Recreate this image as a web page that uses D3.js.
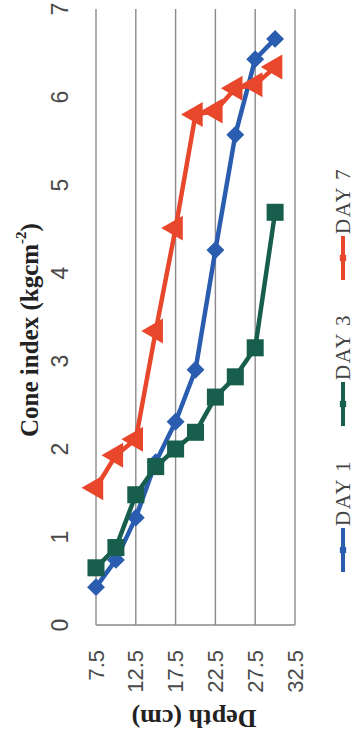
<!DOCTYPE html>
<html><head><meta charset="utf-8">
<script src="https://cdn.jsdelivr.net/npm/d3@7"></script>
<style>html,body{margin:0;padding:0;background:#fff;}svg{display:block;}</style>
</head><body>
<svg id="c" width="361" height="736"></svg>
<script>
const depth = [7.5, 10, 12.5, 15, 17.5, 20, 22.5, 25, 27.5, 30];
const day1 = [0.43, 0.74, 1.22, 1.85, 2.31, 2.9, 4.26, 5.57, 6.43, 6.66];
const day3 = [0.65, 0.88, 1.48, 1.8, 2.0, 2.19, 2.59, 2.82, 3.15, 4.69];
const day7 = [1.56, 1.93, 2.11, 3.34, 4.51, 5.8, 5.84, 6.1, 6.14, 6.34];
const depthTicks = [7.5, 12.5, 17.5, 22.5, 27.5, 32.5];
const coneTicks = [0, 1, 2, 3, 4, 5, 6, 7];
const seriesNames = ["DAY 1", "DAY 3", "DAY 7"];
const colors = ["#2a5db0", "#175e4c", "#e8472b"];
const shapes = [d3.symbolSquare, d3.symbolSquare, d3.symbolTriangle];
const markerRot = [45, 0, -90];
const markerSize = [160, 290, 270];

const svg = d3.select("#c");
const x = d3.scaleLinear().domain([7.5, 32.5]).range([96, 295]);
const y = d3.scaleLinear().domain([0, 7]).range([625, 9]);

// vertical gridlines at depth ticks
svg.append("g").selectAll("line").data(depthTicks).join("line")
  .attr("x1", d => x(d)).attr("x2", d => x(d))
  .attr("y1", y(0)).attr("y2", y(7))
  .attr("stroke", "#8a8a8a").attr("stroke-width", 1.4);
// bottom axis line
svg.append("line").attr("x1", x(7.5)).attr("x2", x(32.5))
  .attr("y1", y(0)).attr("y2", y(0)).attr("stroke", "#8a8a8a").attr("stroke-width", 1.4);

// cone index tick labels (rotated)
svg.append("g").selectAll("text").data(coneTicks).join("text")
  .attr("transform", d => `translate(60,${y(d)}) rotate(-90)`)
  .attr("text-anchor", "middle").attr("dominant-baseline", "central")
  .attr("font-family", "Liberation Sans, Arial, sans-serif").attr("font-size", 23)
  .attr("fill", "#4a4a4a").text(d => d);

// depth tick labels
svg.append("g").selectAll("text").data(depthTicks).join("text")
  .attr("transform", d => `translate(${x(d)},650) rotate(-90)`)
  .attr("text-anchor", "end").attr("dominant-baseline", "central")
  .attr("font-family", "Liberation Sans, Arial, sans-serif").attr("font-size", 22)
  .attr("fill", "#4a4a4a").text(d => d.toFixed(1));

// axis titles
const yt = svg.append("text").attr("transform", "translate(29,330) rotate(-90)")
  .attr("text-anchor", "middle").attr("dominant-baseline", "central")
  .attr("font-family", "Liberation Serif, Times New Roman, serif").attr("font-weight", "bold")
  .attr("font-size", 25).attr("fill", "#222");
yt.append("tspan").text("Cone index (kgcm");
yt.append("tspan").attr("baseline-shift", "super").attr("font-size", 15).text("-2");
yt.append("tspan").text(")");

svg.append("text").attr("transform", "translate(194,718) rotate(180)")
  .attr("text-anchor", "middle").attr("dominant-baseline", "central")
  .attr("font-family", "Liberation Serif, Times New Roman, serif").attr("font-weight", "bold")
  .attr("font-size", 26).attr("fill", "#222").text("Depth (cm)");

// series
const all = [day1, day3, day7];
const line = d3.line().x((d, i) => x(depth[i])).y(d => y(d));
all.forEach((vals, si) => {
  const g = svg.append("g");
  g.append("path").datum(vals).attr("d", line).attr("fill", "none")
    .attr("stroke", colors[si]).attr("stroke-width", 4.5).attr("stroke-linejoin", "round");
  g.selectAll("path.m").data(vals).join("path").attr("class", "m")
    .attr("d", d3.symbol().type(shapes[si]).size(markerSize[si]))
    .attr("transform", (d, i) => `translate(${x(depth[i])},${y(d)}) rotate(${markerRot[si]})`)
    .attr("fill", colors[si]);
});

// legend (rotated)
const legStart = [572, 426, 280];
seriesNames.forEach((name, si) => {
  const g = svg.append("g").attr("transform", `translate(343,${legStart[si]}) rotate(-90)`);
  g.append("line").attr("x1", 0).attr("x2", 44).attr("y1", 0).attr("y2", 0)
    .attr("stroke", colors[si]).attr("stroke-width", 4);
  g.append("path").attr("d", d3.symbol().type(d3.symbolSquare).size(40))
    .attr("transform", `translate(22,0)`).attr("fill", colors[si]);
  g.append("text").attr("x", 46).attr("y", 0).attr("dominant-baseline", "central")
    .attr("font-family", "Liberation Serif, Times New Roman, serif").attr("font-size", 21)
    .attr("letter-spacing", 1.5).attr("fill", "#444").text(name);
});
</script>
</body></html>
